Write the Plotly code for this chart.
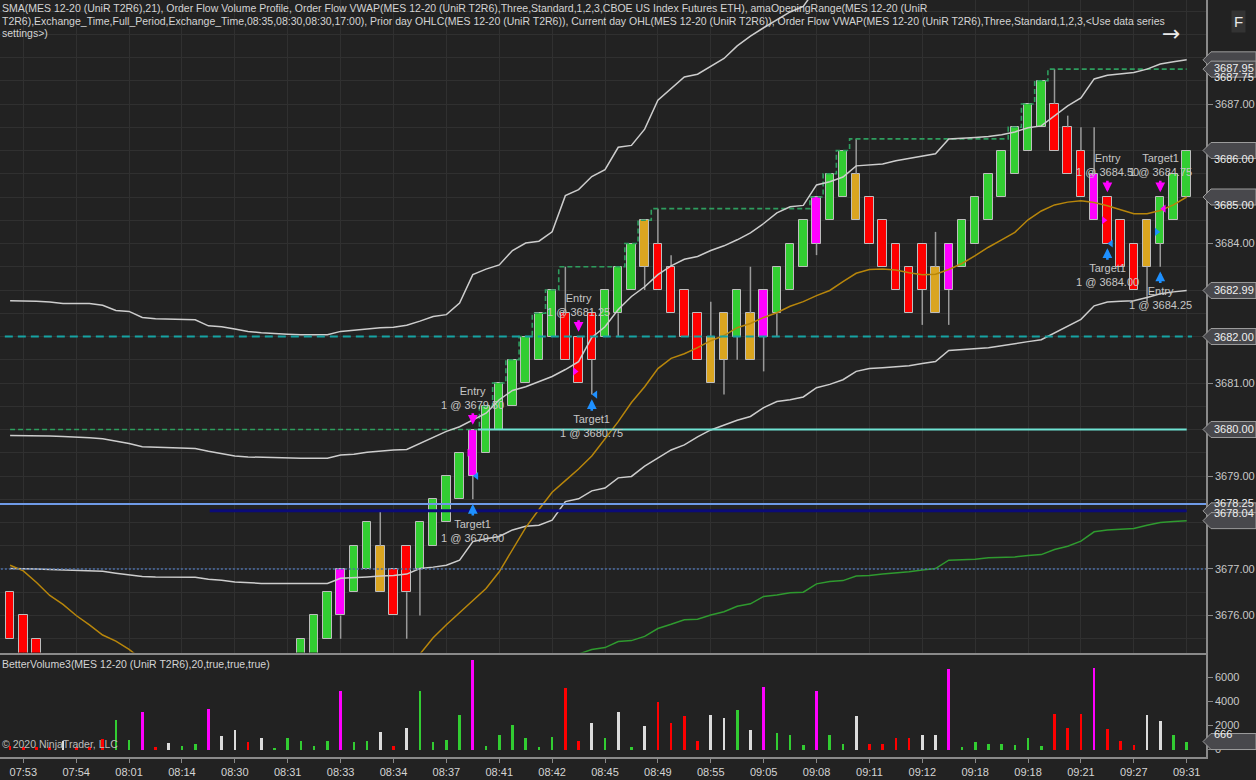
import plotly.graph_objects as go

# ---- data (UniRenko bars, index 0..89) ----
time_labels = ["07:53", "07:54", "08:01", "08:14", "08:30", "08:31", "08:33", "08:34",
               "08:37", "08:41", "08:42", "08:45", "08:49", "08:55", "09:05", "09:08",
               "09:11", "09:12", "09:18", "09:18", "09:21", "09:27", "09:31"]

opens = [3676.5, 3676.0, 3675.5, 3675.0, 3674.5, 3674.0, 3673.5, 3673.0, 3672.5, 3673.0,
         3674.5, 3674.0, 3673.5, 3673.0, 3673.5, 3674.5, 3674.0, 3673.5, 3673.0, 3672.5,
         3673.0, 3673.5, 3674.5, 3675.0, 3675.5, 3676.0, 3676.5, 3677.0, 3677.5, 3677.0,
         3677.5, 3677.0, 3677.5, 3678.0, 3678.5, 3679.0, 3679.5, 3680.0, 3680.5, 3681.0,
         3681.5, 3682.0, 3682.5, 3682.0, 3682.5, 3682.0, 3682.5, 3683.0, 3684.5, 3684.0,
         3683.5, 3683.0, 3682.5, 3682.0, 3682.5, 3682.0, 3682.5, 3682.0, 3682.5, 3683.0,
         3683.5, 3684.0, 3684.5, 3685.0, 3685.5, 3685.0, 3684.5, 3684.0, 3683.5, 3684.0,
         3683.5, 3683.0, 3683.5, 3684.0, 3684.5, 3685.0, 3685.5, 3686.0, 3686.5, 3687.0,
         3686.5, 3686.0, 3685.5, 3685.0, 3684.5, 3684.0, 3684.5, 3684.0, 3684.5, 3685.0]
closes = [3675.5, 3675.0, 3674.5, 3674.0, 3673.5, 3673.0, 3672.5, 3672.0, 3673.5, 3674.0,
          3673.5, 3673.0, 3672.5, 3674.0, 3674.5, 3673.5, 3673.0, 3672.5, 3672.0, 3673.5,
          3674.0, 3674.5, 3675.5, 3676.0, 3676.5, 3677.0, 3677.5, 3678.0, 3676.5, 3676.0,
          3676.5, 3678.0, 3678.5, 3679.0, 3679.5, 3680.0, 3680.5, 3681.0, 3681.5, 3682.0,
          3682.5, 3683.0, 3681.5, 3681.0, 3681.5, 3683.0, 3683.5, 3684.0, 3683.5, 3683.0,
          3682.5, 3682.0, 3681.5, 3681.0, 3681.5, 3683.0, 3681.5, 3683.0, 3683.5, 3684.0,
          3684.5, 3685.0, 3685.5, 3686.0, 3684.5, 3684.0, 3683.5, 3683.0, 3682.5, 3683.0,
          3682.5, 3684.0, 3684.5, 3685.0, 3685.5, 3686.0, 3686.5, 3687.0, 3687.5, 3686.0,
          3685.5, 3685.0, 3684.5, 3684.0, 3683.5, 3683.0, 3683.5, 3685.0, 3685.5, 3686.0]
highs = [3676.5, 3676.0, 3675.5, 3675.0, 3674.5, 3674.0, 3673.5, 3673.0, 3673.5, 3674.0,
         3674.5, 3674.0, 3673.5, 3674.0, 3674.5, 3674.5, 3674.0, 3673.5, 3673.0, 3673.5,
         3674.0, 3674.5, 3675.5, 3676.0, 3676.5, 3677.0, 3677.5, 3678.0, 3678.25, 3677.0,
         3677.5, 3678.0, 3678.5, 3679.0, 3679.5, 3680.0, 3680.5, 3681.0, 3681.5, 3682.0,
         3682.5, 3683.0, 3683.5, 3682.0, 3682.5, 3683.0, 3683.5, 3684.0, 3684.5, 3684.75,
         3683.75, 3683.0, 3682.5, 3682.75, 3682.5, 3683.0, 3683.5, 3683.0, 3683.5, 3684.0,
         3684.5, 3685.0, 3685.5, 3686.0, 3686.25, 3685.0, 3684.5, 3684.0, 3683.5, 3684.0,
         3684.25, 3684.0, 3684.5, 3685.0, 3685.5, 3686.0, 3686.5, 3687.0, 3687.5, 3687.75,
         3686.75, 3686.5, 3686.5, 3685.0, 3684.5, 3684.0, 3684.5, 3685.0, 3685.5, 3686.0]
lows = [3675.5, 3675.0, 3674.5, 3674.0, 3673.5, 3673.0, 3672.5, 3672.0, 3672.5, 3673.0,
        3673.5, 3673.0, 3672.5, 3673.0, 3673.5, 3673.5, 3673.0, 3672.5, 3672.0, 3672.5,
        3673.0, 3673.5, 3674.5, 3675.0, 3675.5, 3675.5, 3676.5, 3677.0, 3676.5, 3676.0,
        3675.5, 3676.0, 3677.5, 3678.0, 3678.5, 3678.5, 3679.5, 3680.0, 3680.5, 3681.0,
        3681.5, 3682.0, 3681.5, 3681.0, 3680.75, 3682.0, 3682.0, 3683.0, 3683.0, 3683.0,
        3682.5, 3682.0, 3681.5, 3681.0, 3680.75, 3681.5, 3681.5, 3681.25, 3682.0, 3683.0,
        3683.5, 3683.75, 3684.5, 3685.0, 3684.5, 3684.0, 3683.5, 3683.0, 3682.5, 3682.25,
        3682.5, 3682.25, 3683.5, 3684.0, 3684.5, 3685.0, 3685.5, 3686.0, 3686.5, 3686.0,
        3685.5, 3685.0, 3684.5, 3684.0, 3683.5, 3683.0, 3682.75, 3683.5, 3684.5, 3685.0]
# g = up, r = down, o = neutral colour, m = climax colour
bar_kinds = ("rrrrorrrgg" "mroggmooro" "gggggmggor" "rggggmgggg" "ggrrrgggor"
             "rrroogomgg" "gmggorrrrr" "omgggggggr" "rrmrrroggg")

volumes = [280, 200, 200, 200, 750, 200, 200, 890, 2420, 830,
           3080, 220, 560, 280, 420, 3330, 1140, 1640, 610, 1000,
           110, 940, 750, 330, 750, 4890, 610, 690, 1420, 280,
           1800, 4860, 610, 830, 2830, 7470, 280, 1170, 2080, 1000,
           220, 1080, 5140, 750, 2170, 1000, 3080, 220, 1940, 3940,
           2170, 2750, 750, 2830, 2640, 3280, 1640, 5220, 1360, 1170,
           360, 4830, 1170, 500, 2750, 420, 420, 1000, 970, 1170,
           1250, 6670, 170, 640, 420, 500, 360, 920, 280, 2920,
           1830, 2920, 6750, 1690, 690, 360, 2830, 2360, 1250, 666]
volume_kinds = ("rrrrwrrrgg" "mrwggmwwrw" "gggggmggwr" "wggggmgggg" "ggrrwgwgwr"
                "rrrwwgwmgg" "gmggwrrrrw" "wmgggggggr" "rrmrrrwwgg")

sma21 = [3677.08, 3676.96, 3676.71, 3676.43, 3676.24, 3676.00, 3675.80, 3675.58, 3675.45, 3675.27,
         3675.05, 3674.90, 3674.75, 3674.60, 3674.50, 3674.40, 3674.30, 3674.25, 3674.20, 3674.15,
         3674.10, 3674.10, 3674.15, 3674.20, 3674.30, 3674.40, 3674.50, 3674.65, 3674.80, 3674.90,
         3675.00, 3675.17, 3675.52, 3675.80, 3676.06, 3676.31, 3676.58, 3676.94, 3677.43, 3677.89,
         3678.28, 3678.65, 3678.90, 3679.15, 3679.43, 3679.79, 3680.17, 3680.58, 3680.92, 3681.31,
         3681.53, 3681.63, 3681.76, 3681.91, 3682.02, 3682.19, 3682.28, 3682.41, 3682.51, 3682.65,
         3682.75, 3682.88, 3682.99, 3683.18, 3683.36, 3683.44, 3683.45, 3683.43, 3683.37, 3683.33,
         3683.34, 3683.44, 3683.57, 3683.74, 3683.92, 3684.08, 3684.24, 3684.51, 3684.70, 3684.83,
         3684.89, 3684.92, 3684.88, 3684.81, 3684.73, 3684.64, 3684.64, 3684.71, 3684.83, 3685.00]

vwap = [3679.87, 3679.87, 3679.86, 3679.86, 3679.85, 3679.84, 3679.82, 3679.80, 3679.75, 3679.70,
        3679.63, 3679.62, 3679.61, 3679.60, 3679.59, 3679.53, 3679.48, 3679.43, 3679.41, 3679.40,
        3679.39, 3679.38, 3679.38, 3679.38, 3679.38, 3679.45, 3679.47, 3679.51, 3679.54, 3679.56,
        3679.57, 3679.70, 3679.83, 3679.96, 3680.06, 3680.21, 3680.35, 3680.64, 3680.84, 3680.92,
        3681.03, 3681.14, 3681.29, 3681.46, 3681.98, 3682.21, 3682.58, 3682.86, 3683.07, 3683.33,
        3683.52, 3683.66, 3683.72, 3683.85, 3683.95, 3684.08, 3684.23, 3684.43, 3684.66, 3684.79,
        3684.82, 3685.26, 3685.33, 3685.43, 3685.67, 3685.69, 3685.71, 3685.78, 3685.83, 3685.89,
        3685.93, 3686.25, 3686.26, 3686.28, 3686.30, 3686.34, 3686.40, 3686.49, 3686.53, 3686.75,
        3686.96, 3687.13, 3687.54, 3687.62, 3687.65, 3687.68, 3687.75, 3687.86, 3687.91, 3687.95]

vwap_upper = [3682.77, 3682.77, 3682.76, 3682.74, 3682.71, 3682.71, 3682.71, 3682.67, 3682.56, 3682.54,
              3682.41, 3682.38, 3682.37, 3682.36, 3682.36, 3682.23, 3682.21, 3682.16, 3682.11, 3682.08,
              3682.06, 3682.05, 3682.04, 3682.04, 3682.04, 3682.11, 3682.14, 3682.16, 3682.19, 3682.20,
              3682.24, 3682.33, 3682.43, 3682.47, 3682.72, 3683.33, 3683.45, 3683.54, 3683.85, 3684.01,
              3684.05, 3684.25, 3685.03, 3685.16, 3685.44, 3685.59, 3686.07, 3686.11, 3686.46, 3687.08,
              3687.34, 3687.58, 3687.64, 3687.81, 3687.98, 3688.25, 3688.46, 3688.64, 3688.81, 3688.98,
              3689.10, 3689.50, 3689.60, 3689.70, 3690.00, 3690.00, 3690.10, 3690.10, 3690.20, 3690.30,
              3690.40, 3690.80, 3690.80, 3690.80, 3690.90, 3690.90, 3691.00, 3691.10, 3691.20, 3691.50,
              3691.70, 3691.90, 3692.30, 3692.40, 3692.50, 3692.60, 3692.60, 3692.70, 3692.80, 3692.90]

vwap_lower = [3677.01, 3677.01, 3677.00, 3676.99, 3676.98, 3676.97, 3676.96, 3676.95, 3676.91, 3676.87,
              3676.84, 3676.83, 3676.83, 3676.82, 3676.82, 3676.78, 3676.76, 3676.72, 3676.70, 3676.69,
              3676.69, 3676.69, 3676.69, 3676.69, 3676.69, 3676.80, 3676.81, 3676.83, 3676.85, 3676.86,
              3676.89, 3677.01, 3677.04, 3677.08, 3677.19, 3677.59, 3677.65, 3677.70, 3677.84, 3677.92,
              3677.94, 3678.05, 3678.45, 3678.51, 3678.68, 3678.74, 3678.96, 3678.99, 3679.21, 3679.39,
              3679.56, 3679.67, 3679.84, 3679.99, 3680.10, 3680.20, 3680.28, 3680.47, 3680.60, 3680.64,
              3680.70, 3680.90, 3680.97, 3681.07, 3681.25, 3681.31, 3681.33, 3681.35, 3681.37, 3681.42,
              3681.46, 3681.70, 3681.72, 3681.74, 3681.76, 3681.80, 3681.85, 3681.89, 3681.93, 3682.08,
              3682.23, 3682.37, 3682.66, 3682.74, 3682.76, 3682.77, 3682.84, 3682.92, 3682.96, 3682.99]

# second VWAP's lower band, only visible from bar 42 on
vwap2_lower = [None] * 42 + [
    3675.05, 3675.17, 3675.27, 3675.31, 3675.44, 3675.46, 3675.55, 3675.72,
    3675.81, 3675.91, 3675.92, 3676.01, 3676.08, 3676.20, 3676.25, 3676.41, 3676.44, 3676.49,
    3676.50, 3676.68, 3676.73, 3676.75, 3676.85, 3676.86, 3676.89, 3676.91, 3676.94, 3676.98,
    3677.01, 3677.19, 3677.20, 3677.21, 3677.24, 3677.25, 3677.26, 3677.29, 3677.31, 3677.42,
    3677.49, 3677.60, 3677.80, 3677.84, 3677.85, 3677.87, 3677.94, 3678.00, 3678.02, 3678.04]

session_high_start = 3680.00   # opening range high carried in from the left

# horizontal levels
level_or_mid = 3682.00
level_open = 3680.00
level_prior_close = 3678.40
level_prior_low = 3678.25
level_prior_mid = 3677.00

# executions
exec_bars = [35, 35, 43, 44, 83, 83, 87, 87]
exec_prices = [3679.50, 3679.00, 3681.25, 3680.75, 3684.50, 3684.00, 3684.25, 3684.75]
exec_names = ["Entry", "Target1", "Entry", "Target1", "Entry", "Target1", "Entry", "Target1"]
exec_sides = ["sell", "buy", "sell", "buy", "sell", "buy", "buy", "sell"]

price_boxes = [3687.95, 3687.75, 3686.00, 3685.00, 3682.99, 3682.00, 3680.00, 3678.25, 3678.04]
price_ticks = [3676, 3677, 3679, 3681, 3684, 3687]
volume_ticks = [0, 2000, 4000, 6000]

# ---- styling / geometry ----
BG = "#222222"
GRID = "#303030"
AXIS = "#8a8a8a"
TXT = "#d4d4d4"
FONT = "Liberation Sans, Arial, sans-serif"
W, H = 1256, 780
MR, MB = 50, 23
PW, PH = W - MR, H - MB
Y_MAIN = (3675.204, 3689.237)
Y_VOL = (-620, 7940)
X_RANGE = (-0.764, 90.46)
main_dom = [(PH - 652.5) / PH, 1.0]
vol_dom = [0.0, (PH - 654) / PH]

KIND_COLOR = {"g": "#32cd32", "r": "#ff0000", "o": "#daa520", "m": "#ff00ff", "w": "#dcdcdc"}


def py(p):
    # pixel row -> paper y
    return (PH - p) / PH


def price_paper(v):
    return main_dom[0] + (v - Y_MAIN[0]) / (Y_MAIN[1] - Y_MAIN[0]) * (main_dom[1] - main_dom[0])


def vol_paper(v):
    return vol_dom[0] + (v - Y_VOL[0]) / (Y_VOL[1] - Y_VOL[0]) * (vol_dom[1] - vol_dom[0])


idx = list(range(len(opens)))
body_lo = [min(o, c) for o, c in zip(opens, closes)]
body_hi = [max(o, c) for o, c in zip(opens, closes)]

fig = go.Figure()

# wicks (drawn outside of the bodies only)
wx, wy = [], []
for i in idx:
    if highs[i] > body_hi[i]:
        wx += [i, i, None]
        wy += [body_hi[i], highs[i], None]
    if lows[i] < body_lo[i]:
        wx += [i, i, None]
        wy += [lows[i], body_lo[i], None]
fig.add_trace(go.Scatter(x=wx, y=wy, mode="lines", line=dict(color="#9a9a9a", width=1.5),
                         hoverinfo="skip", xaxis="x", yaxis="y"))

fig.add_trace(go.Bar(x=idx, y=[h - l for h, l in zip(body_hi, body_lo)], base=body_lo, width=0.64,
                     marker=dict(color=[KIND_COLOR[k] for k in bar_kinds],
                                 line=dict(color="#bdbdbd", width=1)),
                     xaxis="x", yaxis="y"))

# indicator lines
session_high = []
run = session_high_start
for h in highs:
    run = max(run, h)
    session_high.append(run)

fig.add_trace(go.Scatter(x=idx, y=session_high, mode="lines", line_shape="hvh",
                         line=dict(color="#2e9d5e", width=1.6, dash="5px,3px"), xaxis="x", yaxis="y"))
for series, color in [(vwap_upper, "#cdcdcd"), (vwap, "#cdcdcd"), (vwap_lower, "#cdcdcd"),
                      (sma21, "#b8860b"), (vwap2_lower, "#2f9a2f")]:
    fig.add_trace(go.Scatter(x=idx, y=series, mode="lines", line=dict(color=color, width=1.5),
                             connectgaps=False, xaxis="x", yaxis="y"))

# horizontal levels (value, first bar, last bar, colour, width, dash)
for val, x0, x1, col, wd, dash in [
        (level_or_mid, -0.4, 89.4, "#16a3a3", 2, "8px,5px"),
        (level_open, 35.4, 89.0, "#6fe3d3", 2, "solid"),
        (level_prior_close, -1, 92, "#6f9be8", 2, "solid"),
        (level_prior_low, 15.1, 89.0, "#0b0b78", 3, "solid"),
        (level_prior_mid, -1, 92, "#4c6fa8", 1.5, "2px,2px")]:
    fig.add_trace(go.Scatter(x=[x0, x1], y=[val, val], mode="lines",
                             line=dict(color=col, width=wd, dash=dash), xaxis="x", yaxis="y"))

# volume
fig.add_trace(go.Bar(x=idx, y=volumes, width=0.2,
                     marker=dict(color=[KIND_COLOR[k] for k in volume_kinds], line_width=0),
                     xaxis="x2", yaxis="y2"))

annotations = []
# executions: arrows, labels and fill markers
tri_x, tri_y, tri_sym, tri_col = [], [], [], []
for b, p, name, side in zip(exec_bars, exec_prices, exec_names, exec_sides):
    col = "#ff00ff" if side == "sell" else "#1e90ff"
    if side == "sell":
        tip = highs[b] + 0.1
        annotations.append(dict(x=b, y=tip, xref="x", yref="y", text="", showarrow=True,
                                ax=0, ay=-13, arrowhead=2, arrowsize=0.75, arrowwidth=2.6, arrowcolor=col))
        annotations.append(dict(x=b, y=tip, xref="x", yref="y", text=f"{name}<br>1 @ {p:.2f}",
                                showarrow=False, yanchor="bottom", yshift=12,
                                font=dict(size=11, color="#c6c6c6", family=FONT)))
    else:
        tip = lows[b] - 0.1
        annotations.append(dict(x=b, y=tip, xref="x", yref="y", text="", showarrow=True,
                                ax=0, ay=13, arrowhead=2, arrowsize=0.75, arrowwidth=2.6, arrowcolor=col))
        annotations.append(dict(x=b, y=tip, xref="x", yref="y", text=f"{name}<br>1 @ {p:.2f}",
                                showarrow=False, yanchor="top", yshift=-12,
                                font=dict(size=11, color="#c6c6c6", family=FONT)))
    if name == "Entry":
        tri_x.append(b - 0.27)
        tri_sym.append("triangle-right")
    else:
        tri_x.append(b + 0.27)
        tri_sym.append("triangle-left")
    tri_y.append(p)
    tri_col.append(col)
fig.add_trace(go.Scatter(x=tri_x, y=tri_y, mode="markers",
                         marker=dict(symbol=tri_sym, color=tri_col, size=7, line_width=0),
                         xaxis="x", yaxis="y"))

# right-hand price flags
shapes = []


def flag(yp, text):
    shapes.append(dict(type="path", xref="paper", yref="paper", xsizemode="pixel", ysizemode="pixel",
                       xanchor=1, yanchor=yp, path="M -3,0 L 5,8 L 50,8 L 50,-8 L 5,-8 Z",
                       fillcolor="#48484c", line=dict(color="#9c9c9c", width=1), layer="above"))
    annotations.append(dict(x=1, y=yp, xref="paper", yref="paper", xanchor="left", xshift=6,
                            text=text, showarrow=False,
                            font=dict(size=11, color="#f0f0f0", family=FONT)))


for v in price_boxes:
    flag(price_paper(v), f"{v:.2f}")
flag(vol_paper(volumes[-1]), f"{volumes[-1]}")

# header texts
header = [
    "SMA(MES 12-20 (UniR T2R6),21), Order Flow Volume Profile, Order Flow VWAP(MES 12-20 (UniR T2R6),Three,Standard,1,2,3,CBOE US Index Futures ETH), amaOpeningRange(MES 12-20 (UniR",
    "T2R6),Exchange_Time,Full_Period,Exchange_Time,08:35,08:30,08:30,17:00), Prior day OHLC(MES 12-20 (UniR T2R6)), Current day OHL(MES 12-20 (UniR T2R6)), Order Flow VWAP(MES 12-20 (UniR T2R6),Three,Standard,1,2,3,<Use data series",
    "settings>)",
]
for row, line in zip([7.7, 20.7, 33.3], header):
    annotations.append(dict(x=0, y=py(row), xref="paper", yref="paper", xanchor="left", yanchor="middle",
                            xshift=0, text=line, showarrow=False,
                            font=dict(size=10.5, color=TXT, family=FONT)))
annotations.append(dict(x=0, y=py(663.5), xref="paper", yref="paper", xanchor="left", yanchor="middle",
                        xshift=0, text="BetterVolume3(MES 12-20 (UniR T2R6),20,true,true,true)",
                        showarrow=False, font=dict(size=10.5, color=TXT, family=FONT)))
annotations.append(dict(x=0, y=py(743.5), xref="paper", yref="paper", xanchor="left", yanchor="middle",
                        xshift=0, text="© 2020 NinjaTrader, LLC",
                        showarrow=False, font=dict(size=10.5, color="#bcbcbc", family=FONT)))
annotations.append(dict(x=1182 / PW, y=py(19), xref="paper", yref="paper", text="→", showarrow=False,
                        font=dict(size=22, color="#e8e8e8", family="DejaVu Sans")))
annotations.append(dict(x=1246 / PW, y=py(10), xref="paper", yref="paper", text="F", showarrow=False,
                        bgcolor="#333333", borderpad=2,
                        font=dict(size=15, color="#e8e8e8", family=FONT)))

tick_pos = list(range(1, 90, 4))
fig.update_layout(
    width=W, height=H,
    margin=dict(l=0, r=MR, t=0, b=MB, pad=0),
    paper_bgcolor=BG, plot_bgcolor=BG,
    showlegend=False, bargap=0,
    font=dict(family=FONT, size=11, color=TXT),
    annotations=annotations, shapes=shapes,
    xaxis=dict(domain=[0, 1], anchor="y", range=X_RANGE, tickmode="array", tickvals=tick_pos,
               showticklabels=False, ticks="", showgrid=True, gridcolor=GRID, gridwidth=1,
               showline=True, linecolor=AXIS, linewidth=1.5, zeroline=False),
    xaxis2=dict(domain=[0, 1], anchor="y2", matches="x", range=X_RANGE, tickmode="array",
                tickvals=tick_pos, ticktext=time_labels, showgrid=False, ticks="outside", ticklen=4,
                tickcolor=AXIS, showline=True, linecolor=AXIS, linewidth=1.5, zeroline=False,
                tickfont=dict(size=11, color=TXT)),
    yaxis=dict(domain=main_dom, anchor="x", side="right", range=Y_MAIN, tickmode="array",
               tickvals=price_ticks, ticktext=[f"{v:.2f}" for v in price_ticks],
               showgrid=True, gridcolor=GRID, zeroline=False,
               minor=dict(tickmode="linear", tick0=3675, dtick=0.5, showgrid=True, gridcolor=GRID),
               ticks="outside", ticklen=5, tickcolor=AXIS, showline=True, linecolor=AXIS,
               linewidth=1.5, tickfont=dict(size=11, color="#c8c8c8")),
    yaxis2=dict(domain=vol_dom, anchor="x2", side="right", range=Y_VOL, tickmode="array",
                tickvals=volume_ticks, showgrid=False, zeroline=False, ticks="outside", ticklen=5,
                tickcolor=AXIS, showline=True, linecolor=AXIS, linewidth=1.5,
                tickfont=dict(size=11, color="#c8c8c8")),
)

fig.write_html("out.html", config={"displayModeBar": False},
               post_script="document.body.style.margin='0';")
